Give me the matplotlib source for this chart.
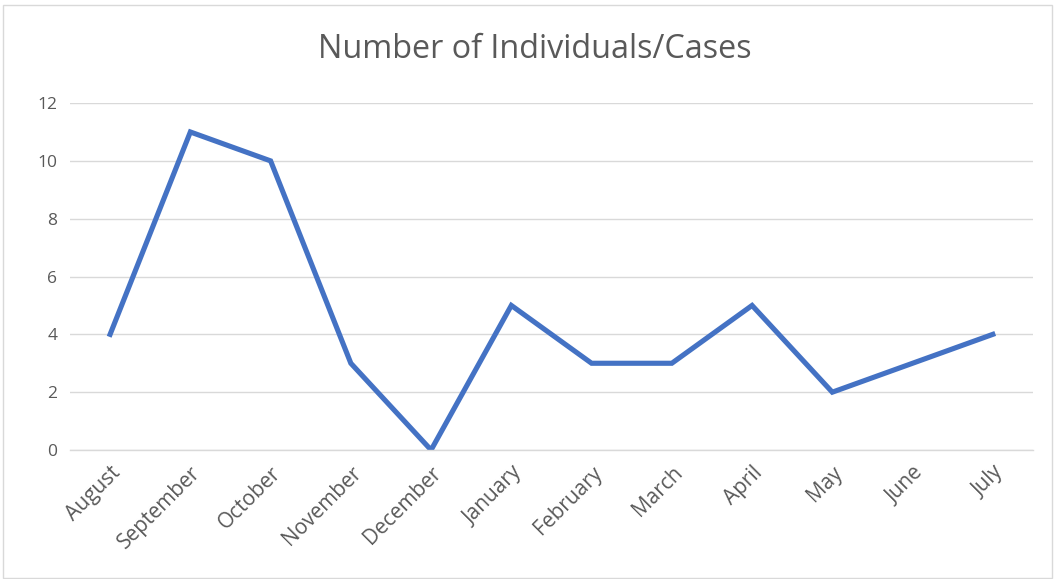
import matplotlib.pyplot as plt

months = ["August", "September", "October", "November", "December", "January",
          "February", "March", "April", "May", "June", "July"]
cases = [4, 11, 10, 3, 0, 5, 3, 3, 5, 2, 3, 4]
yticks = [0, 2, 4, 6, 8, 10, 12]

plt.rcParams['font.family'] = ['Open Sans', 'DejaVu Sans']

fig = plt.figure(figsize=(10.54, 5.79), dpi=100)
ax = fig.add_axes([0.0664, 0.2228, 0.9136, 0.5992])

x = range(len(months))
ax.plot(x, cases, color='#4472C4', linewidth=3.7, solid_joinstyle='miter')

ax.set_xlim(-0.5, len(months) - 0.5)
ax.set_ylim(0, 12)
ax.set_yticks(yticks)
ax.set_xticks(list(x))
ax.set_xticklabels(months, rotation=45, ha='right', rotation_mode='anchor')
ax.tick_params(axis='y', length=0, labelsize=12.5, colors='#595959', pad=9)
ax.tick_params(axis='x', length=0, labelsize=15, colors='#595959', pad=9)
ax.grid(axis='y', color='#D9D9D9', linewidth=1)
ax.set_axisbelow(True)
for s in ['top', 'right', 'left']:
    ax.spines[s].set_visible(False)
ax.spines['bottom'].set_color('#D9D9D9')
ax.spines['bottom'].set_linewidth(1)

fig.text(0.507, 0.915, "Number of Individuals/Cases", ha='center', va='center',
         fontsize=23.3, color='#595959')

# light border around the chart area
fig.patches.append(plt.Rectangle((0.003, 0.002), 0.995, 0.99, transform=fig.transFigure,
                                 fill=False, edgecolor='#D9D9D9', linewidth=1))

plt.savefig("out.png", dpi=100)
